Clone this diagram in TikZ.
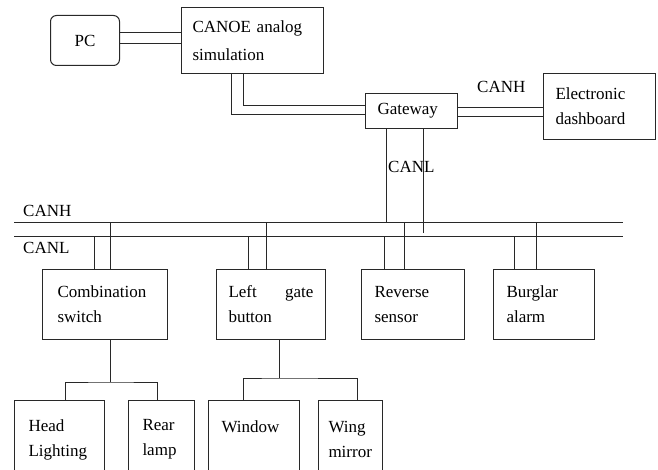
\documentclass[tikz,border=0pt]{standalone}
\usepackage{fontspec}
\setmainfont{Liberation Serif}
\usepackage{tikz}
\usetikzlibrary{arrows.meta, positioning, calc}
\definecolor{lineblack}{RGB}{40, 40, 40}

\begin{document}
\begin{tikzpicture}[
  x = 1pt, y = -1pt,
  every node/.style = {font=\fontsize{17}{25}\selectfont, text=black},
  box/.style     = {draw=lineblack, line width=1pt, anchor=north west,
                    align=left, inner xsep=13pt, inner ysep=0pt},
  pcbox/.style   = {box, rounded corners=6pt, align=center, inner xsep=0pt},
  wire/.style    = {draw=lineblack, line width=1pt},
  buslabel/.style = {anchor=base west, inner sep=0pt}
]
\useasboundingbox (0,0) rectangle (658,470);
\clip (0,0) rectangle (658,470);

% Nodes
\node[pcbox, text width=69pt, minimum height=50pt] (pc) at (50,15) {PC};
\node[box, inner xsep=11pt, text width=120pt, minimum height=66pt,
      font=\fontsize{17}{28}\selectfont] (canoe) at (181,7)
  {CANOE analog\\simulation};
\node[box, inner xsep=12pt, text width=68pt, minimum height=35pt] (gw) at (365,93) {Gateway};
\node[box, inner xsep=12pt, text width=88pt, minimum height=66pt] (dash) at (543,73)
  {Electronic\\dashboard};

\node[box, inner xsep=15pt, text width=95pt, minimum height=70pt] (switch) at (42,269)
  {Combination\\switch};
\node[box, inner xsep=12pt, text width=85pt, minimum height=70pt] (gate) at (216,269)
  {Left\hfill gate\\button};
\node[box, text width=77pt, minimum height=70pt] (rev) at (361,269) {Reverse\\sensor};
\node[box, text width=75pt, minimum height=70pt] (alarm) at (493,269) {Burglar\\alarm};

\node[box, inner xsep=14pt, text width=62pt, minimum height=78pt] (head) at (14,400)
  {Head\\Lighting};
\node[box, inner xsep=14pt, text width=38pt, minimum height=78pt] (rear) at (128,400)
  {Rear\\lamp};
\node[box, text width=65pt, minimum height=78pt] (win) at (208,400) {Window\\\mbox{}};
\node[box, inner xsep=10pt, text width=44pt, minimum height=78pt] (wing) at (318,400)
  {Wing\\mirror};

% Bus
\coordinate (hL) at (14,223);
\coordinate (hR) at (623,223);
\coordinate (lL) at (14,237);
\coordinate (lR) at (623,237);
\draw[wire] (hL) -- (hR);
\draw[wire] (lL) -- (lR);

\node[buslabel] (canhbus) at (23,217) {CANH};
\node[buslabel] (canlbus) at (23,254) {CANL};
\node[buslabel] (canhgw) at (477,93) {CANH};
\node[buslabel] (canlgw) at (388,173) {CANL};

% Wires
\draw[wire] ([yshift=8pt]pc.east) -- ([yshift=8pt]pc.east -| canoe.west);
\draw[wire] ([yshift=-3pt]pc.east) -- ([yshift=-3pt]pc.east -| canoe.west);

\draw[wire] ([xshift=-21pt]canoe.south) |- ([yshift=-3.5pt]gw.west);
\draw[wire] ([xshift=-9pt]canoe.south) |- ([yshift=5.5pt]gw.west);

\draw[wire] ([yshift=3.5pt]gw.east) -- ([yshift=3.5pt]gw.east -| dash.west);
\draw[wire] ([yshift=-5.5pt]gw.east) -- ([yshift=-5.5pt]gw.east -| dash.west);

\draw[wire] ([xshift=-25pt]gw.south) -- ([xshift=-25pt]gw.south |- hL);
\draw[wire, shorten >=4pt] ([xshift=12pt]gw.south) -- ([xshift=12pt]gw.south |- lL);

\foreach \n/\a/\b in {switch/-10.5/5.5, gate/-22.5/-4.5, rev/-28.5/-8.5, alarm/-29.5/-7.5}{
  \draw[wire] ([xshift=\a pt]\n.north) -- ([xshift=\a pt]\n.north |- lL);
  \draw[wire] ([xshift=\b pt]\n.north) -- ([xshift=\b pt]\n.north |- hL);
}

% Lower branches
\coordinate (swj) at ([xshift=5.5pt, yshift=-42pt]switch.south);
\draw[wire] ([xshift=5.5pt]switch.south) -- (swj);
\draw[wire] ([xshift=6pt]head.north) |- (swj) -| ([xshift=-4pt]rear.north);

\coordinate (gtj) at ([xshift=8.5pt, yshift=-38pt]gate.south);
\draw[wire] ([xshift=8.5pt]gate.south) -- (gtj);
\draw[wire] ([xshift=-10.5pt]win.north) |- (gtj) -| ([xshift=7pt]wing.north);

\end{tikzpicture}
\end{document}
